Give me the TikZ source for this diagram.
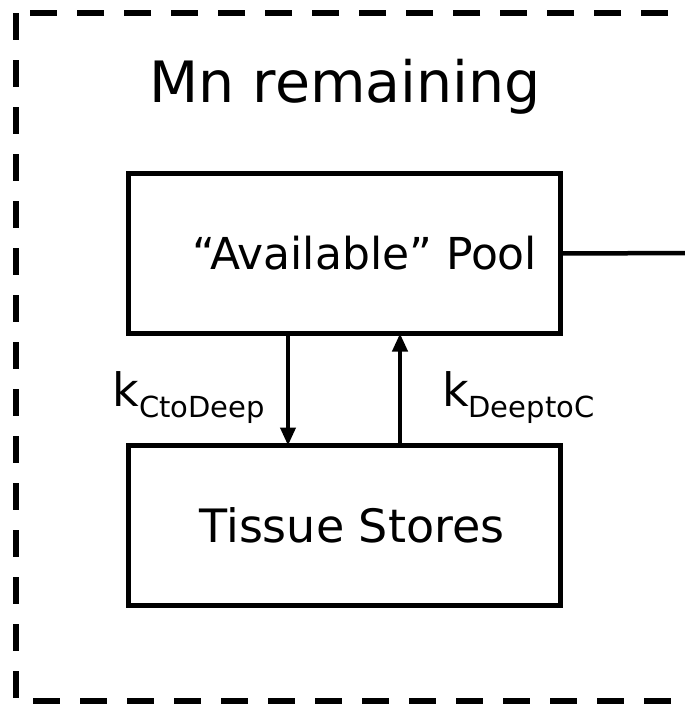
\documentclass[tikz,border=0pt]{standalone}
\usepackage{fontspec}
\setmainfont{DejaVu Sans}
\usetikzlibrary{positioning, arrows.meta}
\tikzstyle{wire} = [line width=4.5pt]
\tikzstyle{flow} = [line width=4pt,-{Triangle[length=18pt,width=15pt]}]
\tikzstyle{pool} = [rectangle, minimum width=432pt, minimum height=160pt, outer sep=0pt, draw=black, line width=5pt, font=\fontsize{44}{48}\selectfont]
\tikzstyle{rate} = [inner sep=0pt, font=\fontsize{46}{50}\selectfont]
\newcommand{\sub}[1]{\raisebox{-11pt}{\fontsize{29}{32}\selectfont #1}}

\begin{document}
\begin{tikzpicture}[x=1pt, y=-1pt]
        \useasboundingbox (0,0) rectangle (685,705);
        % compartment boundary
        \draw [line width=6pt, dash pattern=on 27pt off 20pt] (16,13) rectangle (688,701);
        \node (title) [anchor=base, inner sep=0pt, font=\fontsize{57}{62}\selectfont] at (345,102) {Mn remaining};

        \node (avail) [pool] at (344,253.5) {\hspace*{42pt}``Available'' Pool};
        \node (stores) [pool, below=112pt of avail, font=\fontsize{46}{50}\selectfont] {\hspace*{16pt}Tissue Stores};
        \coordinate (exit) at (692,253);

        \draw [wire] (avail.east) -- (exit);
        \draw [flow] ([xshift=-56pt]avail.south) -- node[rate, pos=0.65, anchor=base east, xshift=-21pt]{k\sub{CtoDeep}} ([xshift=-56pt]stores.north);
        \draw [flow] ([xshift=56pt]stores.north) -- node[rate, pos=0.35, anchor=base west, xshift=40pt]{k\sub{DeeptoC}} ([xshift=56pt]avail.south);
\end{tikzpicture}
\end{document}
